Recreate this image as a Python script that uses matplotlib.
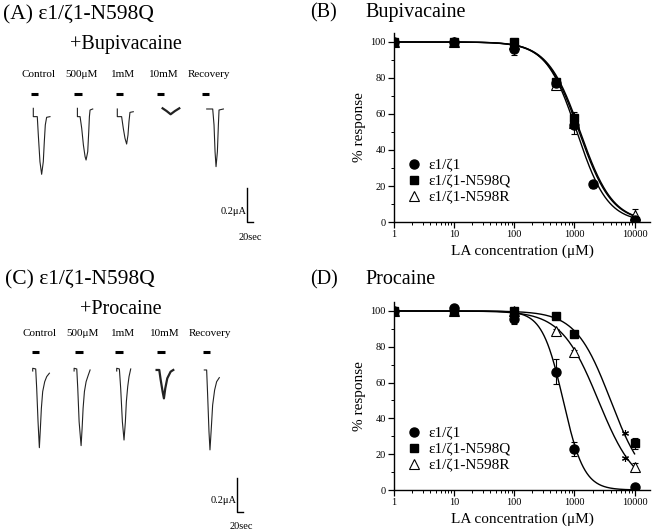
import numpy as np
import matplotlib.pyplot as plt
from matplotlib.ticker import FixedLocator, MultipleLocator, LogLocator, NullFormatter

plt.rcParams['font.family'] = ['Liberation Serif', 'DejaVu Serif']

# ---- dose-response data (% response) ----
conc_bup = [1, 10, 100, 500, 1000, 2000, 10000]
bup_wt = [100, 100, 96, 77, 54, 21, 1]
bup_wt_err = [0.5, 0.5, 3, 2, 2, 2, 1]
bup_q = [100, 100, 100, 78, 58, np.nan, 0.5]
bup_q_err = [0.5, 0.5, 1, 1, 2, np.nan, 1]
bup_r = [100, 100, 99, 76, 55, np.nan, 4]
bup_r_err = [0.5, 0.5, 1, 1, 6, np.nan, 3]

conc_pro = [1, 10, 100, 500, 1000, 10000]
pro_wt = [100, 101.5, 95.5, 66, 23, 1.5]
pro_wt_err = [0.5, 0.5, 2.5, 7, 4, 1]
pro_q = [100, 100, 100, 97, 87, 26]
pro_q_err = [0.5, 0.5, 1, 1, 1, 3]
pro_r = [100, 100, 100, 89, 77, 13]
pro_r_err = [0.5, 0.5, 1, 1, 1, 2]
pro_star_conc = [6800, 6800]
pro_star_val = [32, 18]

# Hill fits: IC50 (uM), Hill coefficient  -> order wt, N598Q, N598R
bup_ic50 = [1100, 1250, 1200]
bup_nh = [1.7, 1.6, 1.6]
pro_ic50 = [650, 4000, 2500]
pro_nh = [2.5, 1.5, 1.4]

legend_names = ['ε1/ζ1', 'ε1/ζ1-N598Q', 'ε1/ζ1-N598R']
xtick_vals = [1, 10, 100, 1000, 10000]
xtick_labels = ['1', '10', '100', '1000', '10000']

# ---- current traces (time s from onset, current uA) ----
trace_labels = ['Control', '500μM', '1mM', '10mM', 'Recovery']

bup_onset = [111, 258, 391, 542, 689]
bup_bar = [(102, 128), (247, 272), (386, 409), (522, 547), (672, 698)]
bup_t = [
    [0, 0, 13.3, 16.7, 22.2, 27.8, 33.3, 36.7, 40, 44.4, 55.6],
    [0, 0, 8.9, 14.4, 20, 25.6, 28.9, 34.4, 37.8, 40, 42.2, 51.1],
    [0, 0, 14.4, 20, 25.6, 31.1, 35.6, 38.9, 42.2, 53.3],
    [0, 13.3, 26.7, 41.1, 55.6],
    [0, 20, 24.4, 27.8, 31.1, 35.6, 38.9, 41.1, 55.6],
]
bup_i = [
    [0.049, 0, 0, -0.108, -0.265, -0.339, -0.265, -0.147, -0.049, -0.004, 0],
    [0.049, 0, 0, -0.069, -0.167, -0.235, -0.255, -0.206, -0.088, 0, 0.039, 0.045],
    [0.045, 0, 0, -0.069, -0.127, -0.161, -0.108, -0.029, 0.025, 0.029],
    [0.049, 0.033, 0.014, 0.033, 0.049],
    [0.045, 0.045, -0.049, -0.206, -0.294, -0.206, -0.049, 0.039, 0.045],
]

pro_onset = [109, 247, 389, 522, 681]
pro_bar = [(106, 131), (250, 276), (383, 411), (524, 550), (676, 700)]
pro_t = [
    [0, 0, 10, 13.3, 17.8, 22.2, 25.6, 28.9, 33.3, 40, 46.7, 55.6],
    [0, 0, 8.9, 12.2, 16.7, 23.3, 26.7, 30, 34.4, 40, 46.7, 53.3],
    [0, 0, 8.9, 13.3, 18.9, 24.4, 28.9, 32.2, 36.7, 41.1, 46.7],
    [0, 8.9, 13.3, 20, 24.4, 28.9, 35.6, 46.7, 55.6],
    [0, 7.8, 11.1, 15.6, 18.9, 23.3, 27.8, 34.4, 41.1, 50],
]
pro_i = [
    [-0.012, 0.004, 0, -0.114, -0.31, -0.463, -0.349, -0.231, -0.133, -0.075, -0.045, -0.025],
    [-0.012, 0.004, 0, -0.114, -0.31, -0.451, -0.349, -0.231, -0.133, -0.075, -0.039, -0.006],
    [-0.012, 0.004, 0, -0.114, -0.31, -0.418, -0.31, -0.192, -0.104, -0.045, 0],
    [-0.006, -0.006, -0.061, -0.133, -0.173, -0.114, -0.055, -0.016, -0.006],
    [-0.006, -0.006, -0.153, -0.369, -0.476, -0.349, -0.212, -0.124, -0.075, -0.051],
]


def hill(x, ic50, nh):
    return 100.0 / (1.0 + (x / ic50) ** nh)


def trace_panel(ax, onset, bars, ts, cur, bar_y, lab_y, sb_x, sb_y):
    for k in range(len(ts)):
        t = np.array(ts[k]) + onset[k]
        lw = 1.6 if trace_labels[k] == '10mM' else 0.8
        ax.plot(t, cur[k], color='#222222', lw=lw, solid_joinstyle='round')
        b0, b1 = bars[k]
        ax.plot([b0, b1], [bar_y, bar_y], color='black', lw=2.2, solid_capstyle='butt')
        ax.text((b0 + b1) / 2 + 12, lab_y, trace_labels[k], ha='center', va='center', fontsize=8)
    # scale bar: 0.2 uA, 20 s
    ax.plot([sb_x, sb_x, sb_x + 20], [sb_y + 0.2, sb_y, sb_y], color='black', lw=1.0)
    ax.text(sb_x - 2, sb_y + 0.065, '0.2μA', ha='right', va='center', fontsize=7.5)
    ax.text(sb_x + 13, sb_y - 0.088, '20sec', ha='center', va='center', fontsize=7.5)
    ax.set_xlim(0, 1100)
    ax.axis('off')


def dose_panel(ax, conc, wt, wt_e, q, q_e, r, r_e, ic50, nh):
    xs = np.logspace(0, 4, 400)
    for k in range(3):
        ax.plot(xs, hill(xs, ic50[k], nh[k]), color='black', lw=1.0, zorder=2)
    ekw = dict(fmt='none', ecolor='black', elinewidth=0.8, capsize=2.5, capthick=0.8, zorder=3)
    ax.errorbar(conc, wt, yerr=wt_e, **ekw)
    ax.errorbar(conc, q, yerr=q_e, **ekw)
    ax.errorbar(conc, r, yerr=r_e, **ekw)
    h1, = ax.plot(conc, r, '^', ms=6.5, mfc='white', mec='black', mew=0.8, ls='none', zorder=4)
    h2, = ax.plot(conc, wt, 'o', ms=6.5, color='black', ls='none', zorder=5)
    h3, = ax.plot(conc, q, 's', ms=5.5, color='black', ls='none', zorder=5)
    ax.set_xscale('log')
    ax.set_xlim(1, 18000)
    ax.set_ylim(0, 105)
    ax.xaxis.set_major_locator(FixedLocator(xtick_vals))
    ax.set_xticklabels(xtick_labels)
    ax.xaxis.set_minor_locator(LogLocator(base=10, subs=np.arange(2, 10)))
    ax.xaxis.set_minor_formatter(NullFormatter())
    ax.yaxis.set_major_locator(MultipleLocator(20))
    ax.yaxis.set_minor_locator(MultipleLocator(10))
    for s in ['top', 'right']:
        ax.spines[s].set_visible(False)
    for s in ['left', 'bottom']:
        ax.spines[s].set_linewidth(1.0)
    ax.tick_params(which='major', length=4, width=0.9, labelsize=7.5, pad=2)
    ax.tick_params(which='minor', length=2, width=0.7)
    ax.set_ylabel('% response', fontsize=11, labelpad=3)
    ax.set_xlabel('LA concentration (μM)', fontsize=11, labelpad=4)
    ax.legend([h2, h3, h1], legend_names, loc='lower left', bbox_to_anchor=(0.02, 0.06),
              frameon=False, fontsize=11, handletextpad=0.3, labelspacing=0.15,
              borderaxespad=0, handlelength=1.2)
    return ax


fig = plt.figure(figsize=(6.54, 5.31), dpi=100)

axA = fig.add_axes([0, 0.5292, 0.5046, 0.3578])
trace_panel(axA, bup_onset, bup_bar, bup_t, bup_i, 0.135, 0.25, 823, -0.62)
axA.set_ylim(-0.784, 0.333)

axC = fig.add_axes([0, 0, 0.5046, 0.3974])
trace_panel(axC, pro_onset, pro_bar, pro_t, pro_i, 0.1, 0.206, 790, -0.841)
axC.set_ylim(-0.953, 0.288)

axB = fig.add_axes([0.6024, 0.5819, 0.3914, 0.356])
dose_panel(axB, conc_bup, bup_wt, bup_wt_err, bup_q, bup_q_err, bup_r, bup_r_err, bup_ic50, bup_nh)

axD = fig.add_axes([0.6024, 0.0772, 0.3914, 0.354])
dose_panel(axD, conc_pro, pro_wt, pro_wt_err, pro_q, pro_q_err, pro_r, pro_r_err, pro_ic50, pro_nh)
axD.plot(pro_star_conc, pro_star_val, ls='none', marker=(6, 2, 0), ms=5, color='black', mew=0.8, zorder=5)

W, H = 654.0, 531.0
tkw = dict(fontsize=14.5, va='center', ha='left')
fig.text(3 / W, 1 - 15 / H, '(A) ε1/ζ1-N598Q', fontsize=15.5, va='center', ha='left')
fig.text(70 / W, 1 - 45 / H, '+Bupivacaine', **tkw)
fig.text(310 / W, 1 - 13 / H, '(B)', **tkw)
fig.text(365 / W, 1 - 13 / H, 'Bupivacaine', **tkw)
fig.text(5 / W, 1 - 280 / H, '(C) ε1/ζ1-N598Q', fontsize=15.5, va='center', ha='left')
fig.text(80 / W, 1 - 310 / H, '+Procaine', **tkw)
fig.text(310 / W, 1 - 280 / H, '(D)', **tkw)
fig.text(365 / W, 1 - 280 / H, 'Procaine', **tkw)

fig.savefig('out.png', dpi=100)
